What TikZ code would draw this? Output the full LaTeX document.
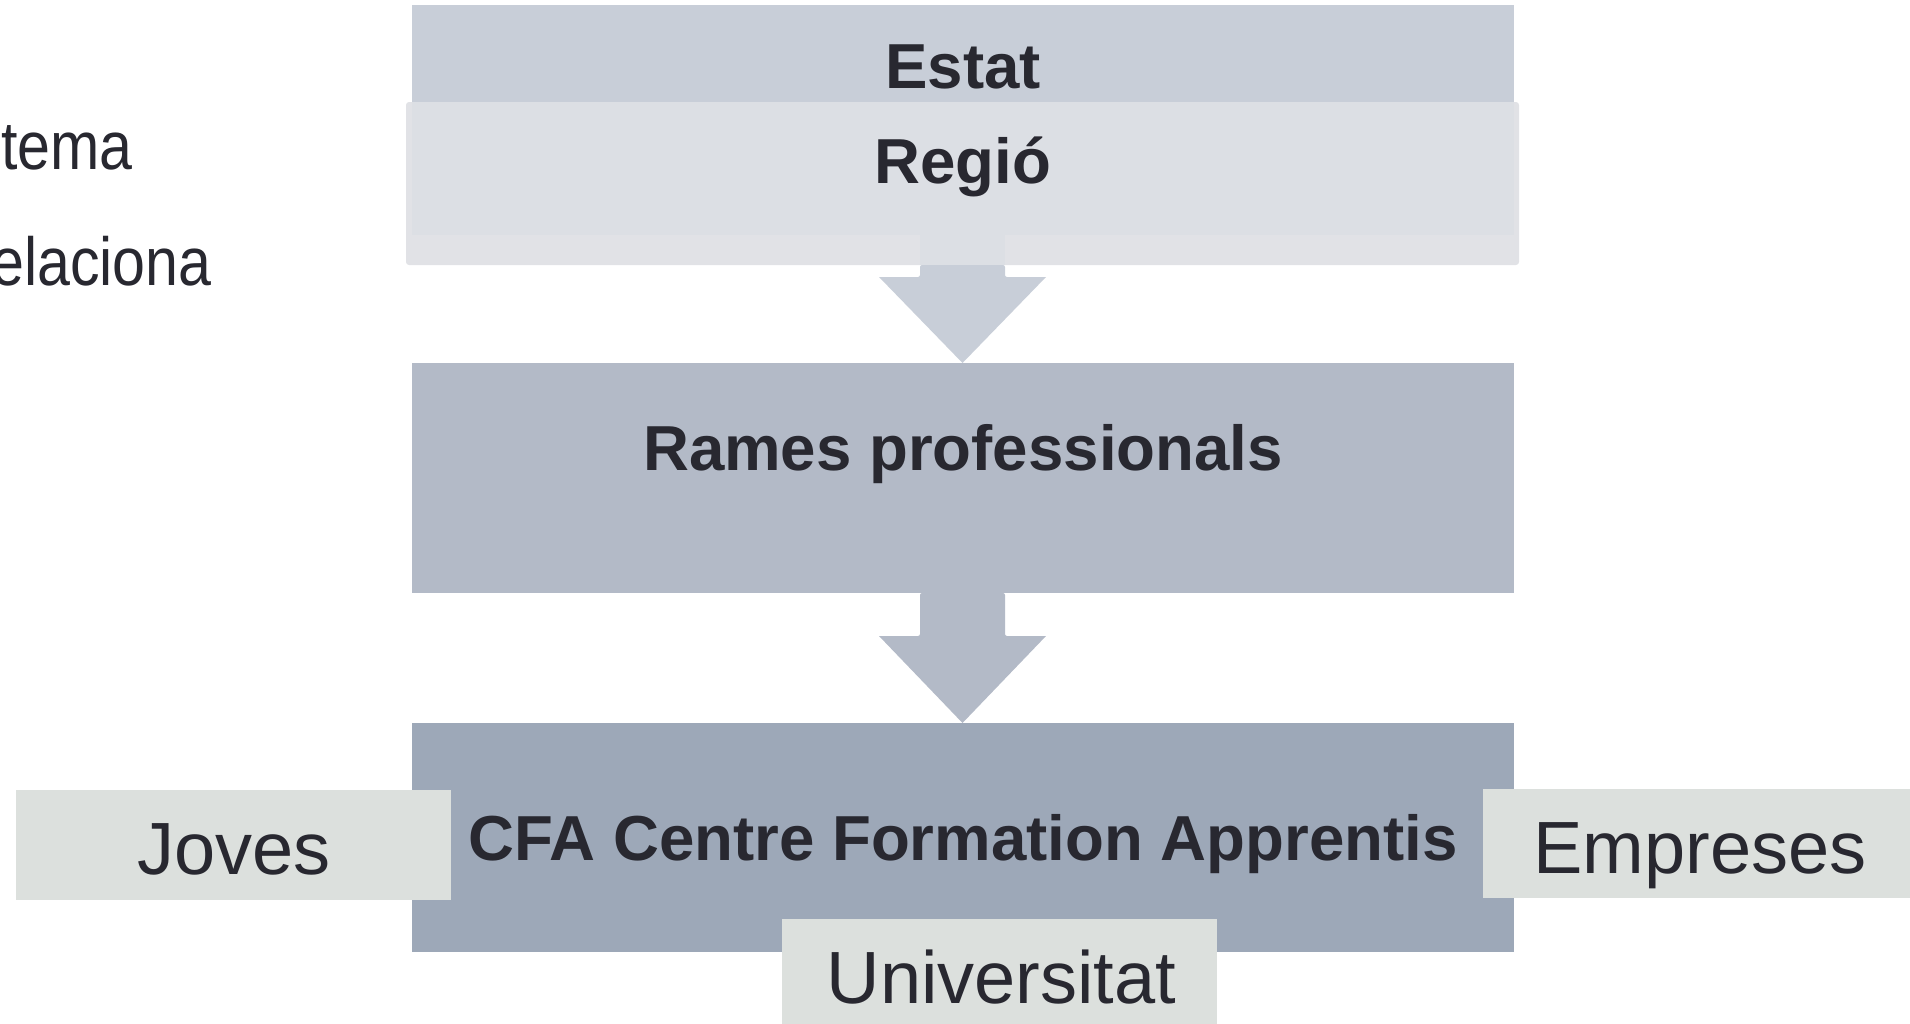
\documentclass[tikz,border=0pt]{standalone}
\usepackage{fontspec}
\setmainfont{Liberation Sans}
\newfontfamily\narrowfont[FakeStretch=0.87]{Liberation Sans}
\definecolor{txt}{HTML}{282830}
\definecolor{estatc}{HTML}{C8CED8}
\definecolor{regioframe}{HTML}{E1E2E6}
\definecolor{regioin}{HTML}{DCDFE4}
\definecolor{ramesc}{HTML}{B3BAC7}
\definecolor{cfac}{HTML}{9DA8B8}
\definecolor{sidec}{HTML}{DCE0DD}
\tikzset{
  box/.style={rectangle, inner sep=0pt, draw=none},
  boldtxt/.style={inner sep=0pt, anchor=base, text=txt, font=\fontsize{31.8pt}{38pt}\selectfont\bfseries},
  regtxt/.style={inner sep=0pt, anchor=base, text=txt, font=\fontsize{37pt}{44pt}\selectfont},
  lefttxt/.style={inner sep=0pt, anchor=base east, text=txt, font=\narrowfont\fontsize{34pt}{40pt}\selectfont},
}
\begin{document}
\begin{tikzpicture}[x=0.5pt,y=-0.5pt]
\clip (0,0) rectangle (1910,1023);
\useasboundingbox (0,0) rectangle (1910,1023);

% left clipped texts
\node[lefttxt] (t1) at (133,169) {tema};
\node[lefttxt] (t2) at (212,285) {elaciona};

% Estat
\node[box, fill=estatc, minimum width=551pt, minimum height=48.5pt] (estat) at (963,53.5) {};
% Regio
\node[box, fill=regioframe, rounded corners=1.5pt, minimum width=556.5pt, minimum height=81.5pt] (regio) at (962.5,183.5) {};
\node[box, fill=regioin, minimum width=551pt, minimum height=66.5pt] (regioin) at (963,168.5) {};
\node[box, fill=regioin, minimum width=42.5pt, minimum height=15pt] (band) at (962.5,250) {};

% arrow 1
\coordinate (a1top) at (962.5,265);
\coordinate (a1tip) at (962.5,363);
\fill[estatc, rounded corners=1pt] ([xshift=-21.25pt]a1top) -- ([xshift=21.25pt]a1top) -- ([xshift=21.25pt]a1top |- 0,277) [sharp corners] -- (1046,277) -- (a1tip) -- (879,277) [rounded corners=1pt] -- ([xshift=-21.25pt]a1top |- 0,277) -- cycle;

% Rames
\node[box, fill=ramesc, minimum width=551pt, minimum height=115pt] (rames) at (963,478) {};

% arrow 2
\coordinate (a2top) at (962.5,593);
\coordinate (a2tip) at (962.5,723);
\fill[ramesc, rounded corners=1pt] ([xshift=-21.25pt]a2top) -- ([xshift=21.25pt]a2top) -- ([xshift=21.25pt]a2top |- 0,636) [sharp corners] -- (1046,636) -- (a2tip) -- (879,636) [rounded corners=1pt] -- ([xshift=-21.25pt]a2top |- 0,636) -- cycle;

% CFA
\node[box, fill=cfac, minimum width=551pt, minimum height=114.5pt] (cfa) at (963,837.5) {};

% side boxes
\node[box, fill=sidec, minimum width=217.5pt, minimum height=55pt] (joves) at (233.5,845) {};
\node[box, fill=sidec, minimum width=216pt, minimum height=54.5pt] (empreses) at (1699,843.5) {};
\node[box, fill=sidec, minimum width=217.5pt, minimum height=55.5pt] (univ) at (999.5,974.5) {};

% texts
\node[boldtxt] (testat) at (963,88) {Estat};
\node[boldtxt] (tregio) at (963,183) {Regió};
\node[boldtxt] (trames) at (963,470) {Rames professionals};
\node[boldtxt] (tcfa) at (963,860) {CFA Centre Formation Apprentis};
\node[regtxt] (tjoves) at (234,874) {Joves};
\node[regtxt] (temp) at (1700,873) {Empreses};
\node[regtxt] (tuniv) at (1001.5,1003) {Universitat};
\end{tikzpicture}
\end{document}
